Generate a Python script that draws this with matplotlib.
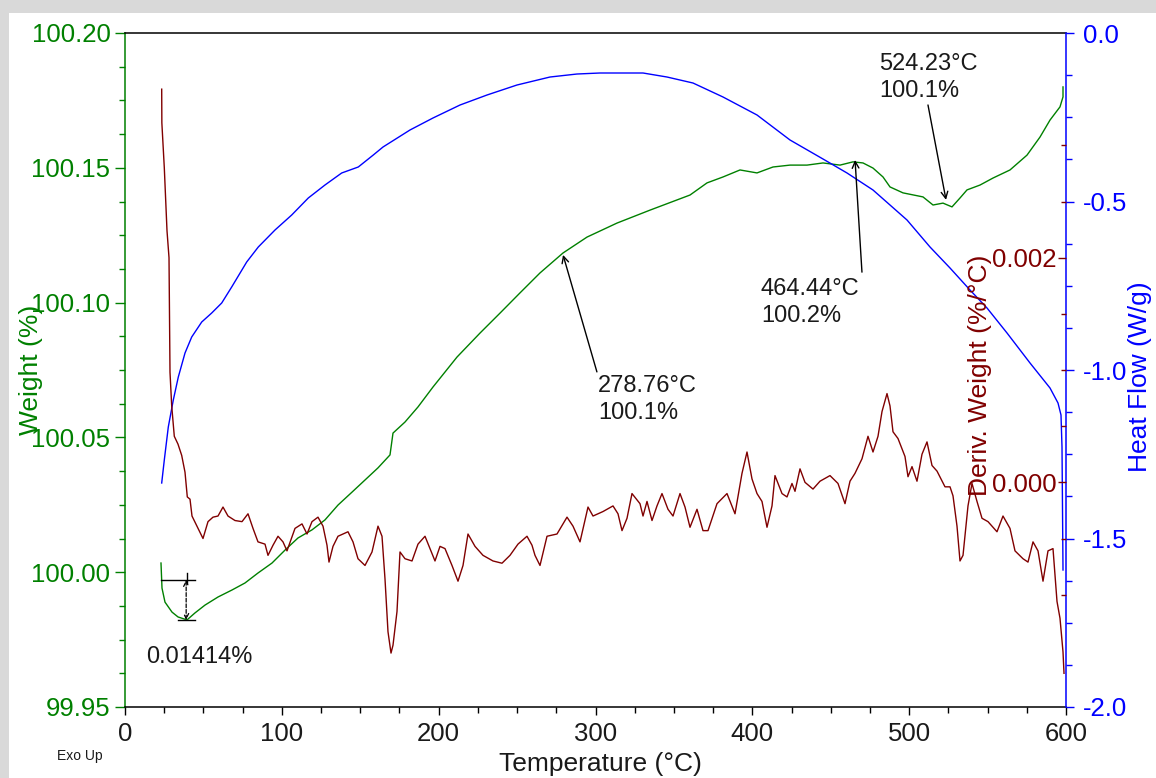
import numpy as np
import matplotlib
matplotlib.use('Agg')
import matplotlib.pyplot as plt
from matplotlib.ticker import MultipleLocator, FixedLocator, FormatStrFormatter
from matplotlib.patches import Rectangle

plt.rcParams['font.family'] = ['Liberation Sans', 'DejaVu Sans']
plt.rcParams['axes.unicode_minus'] = False

# ---------------- data ----------------
# Weight (%) vs temperature (°C)
temp_w = [22.95, 23.59, 25.50, 29.97, 33.80, 39.53, 44.63, 51.01, 59.30, 68.22,
          76.51, 84.80, 93.73, 102.02, 110.31, 119.23, 127.52, 135.81, 144.74, 153.03,
          161.32, 167.69, 168.97, 170.88, 178.53, 186.82, 196.39, 211.69, 226.36, 239.11,
          251.86, 264.61, 279.28, 294.58, 313.71, 334.75, 360.26, 371.10, 381.30, 392.14,
          402.98, 413.18, 424.02, 434.86, 445.06, 455.90, 464.19, 470.56, 476.94, 483.32,
          487.78, 496.07, 508.82, 515.20, 521.57, 527.31, 532.41, 536.88, 545.16, 553.45,
          564.29, 575.13, 583.42, 589.80, 596.17, 598.09, 598.09]
weight = [100.0034, 99.9941, 99.9889, 99.9852, 99.9834, 99.9823, 99.9849, 99.9878, 99.9908, 99.9934,
          99.9960, 99.9997, 100.0034, 100.0082, 100.0127, 100.0157, 100.0194, 100.0249, 100.0297, 100.0342,
          100.0387, 100.0427, 100.0435, 100.0516, 100.0557, 100.0613, 100.0687, 100.0798, 100.0887, 100.0961,
          100.1036, 100.1110, 100.1184, 100.1243, 100.1295, 100.1343, 100.1399, 100.1444, 100.1466, 100.1492,
          100.1481, 100.1503, 100.1510, 100.1510, 100.1518, 100.1510, 100.1522, 100.1518, 100.1499, 100.1466,
          100.1429, 100.1407, 100.1392, 100.1362, 100.1369, 100.1355, 100.1388, 100.1418, 100.1436, 100.1462,
          100.1492, 100.1547, 100.1614, 100.1677, 100.1726, 100.1763, 100.1800]

# Heat flow (W/g) vs temperature (°C)
temp_hf = [23.40, 25.06, 27.61, 30.80, 33.99, 38.26, 42.53, 48.91, 55.28, 61.66,
           68.03, 77.60, 84.99, 95.64, 106.29, 116.87, 127.52, 138.17, 148.75, 158.32,
           164.51, 181.72, 196.39, 213.60, 230.82, 249.95, 270.99, 288.20, 302.87, 330.29,
           345.59, 362.17, 381.30, 402.98, 424.02, 445.06, 460.37, 476.94, 498.62, 513.29,
           526.04, 538.79, 549.63, 562.39, 577.05, 589.80, 594.90, 596.81, 597.45, 598.09]
heat_flow = [-1.3353, -1.2671, -1.1691, -1.0890, -1.0208, -0.9496, -0.9021, -0.8576, -0.8309, -0.8012,
             -0.7537, -0.6795, -0.6350, -0.5846, -0.5401, -0.4896, -0.4510, -0.4154, -0.3976, -0.3620,
             -0.3383, -0.2878, -0.2522, -0.2137, -0.1840, -0.1543, -0.1306, -0.1217, -0.1187, -0.1187,
             -0.1306, -0.1484, -0.1899, -0.2433, -0.3175, -0.3739, -0.4154, -0.4659, -0.5549, -0.6350,
             -0.6973, -0.7626, -0.8160, -0.8902, -0.9792, -1.0534, -1.0979, -1.1335, -1.2285, -1.5935]

# Derivative weight (%/°C) vs temperature (°C)
temp_d = [23.40, 23.50, 25.06, 25.95, 26.78, 28.06, 28.69, 29.78, 31.43, 33.79,
          36.15, 38.26, 39.72, 41.45, 42.72, 45.91, 49.73, 52.92, 56.11, 59.30,
          62.49, 65.67, 70.14, 74.60, 78.43, 81.62, 84.80, 89.27, 91.18, 94.37,
          97.56, 100.74, 103.29, 108.40, 112.86, 116.05, 119.23, 123.06, 126.25, 128.80,
          130.07, 132.62, 135.81, 142.19, 145.38, 148.56, 153.03, 157.49, 161.32, 163.87,
          165.78, 167.69, 169.61, 170.88, 173.43, 175.35, 178.53, 183.00, 186.82, 191.29,
          194.47, 197.66, 200.85, 204.04, 208.50, 212.33, 215.52, 218.70, 223.17, 228.27,
          234.64, 240.38, 245.48, 250.58, 256.32, 259.51, 261.42, 264.61, 269.08, 275.45,
          281.83, 285.65, 290.12, 295.22, 298.41, 304.78, 311.16, 314.35, 316.90, 320.09,
          323.27, 328.37, 330.29, 332.84, 336.03, 339.21, 342.40, 346.23, 349.42, 353.88,
          357.07, 360.26, 364.72, 368.54, 371.73, 377.47, 383.85, 388.95, 393.41, 396.60,
          399.79, 402.98, 406.16, 409.35, 412.54, 414.45, 418.92, 422.10, 425.29, 427.21,
          430.39, 433.58, 438.68, 443.15, 449.52, 454.62, 459.09, 462.27, 465.46, 469.93,
          473.75, 476.94, 480.13, 482.68, 485.87, 487.78, 489.69, 492.88, 497.34, 499.26,
          501.81, 504.99, 508.18, 511.37, 514.56, 517.75, 522.85, 526.04, 527.95, 530.50,
          532.41, 534.33, 537.51, 540.06, 543.25, 546.44, 550.27, 556.00, 559.83, 564.29,
          567.48, 572.58, 575.77, 578.96, 582.15, 585.34, 588.52, 591.71, 594.26, 596.17,
          598.09, 598.73]
deriv = [0.00350, 0.00320, 0.00280, 0.00252, 0.00224, 0.00200, 0.00098, 0.00068, 0.00041, 0.00034,
         0.00024, 0.00009, -0.00013, -0.00015, -0.00030, -0.00039, -0.00050, -0.00035, -0.00031, -0.00030,
         -0.00022, -0.00030, -0.00034, -0.00035, -0.00028, -0.00041, -0.00053, -0.00055, -0.00065, -0.00056,
         -0.00048, -0.00053, -0.00061, -0.00041, -0.00037, -0.00046, -0.00035, -0.00031, -0.00039, -0.00056,
         -0.00071, -0.00057, -0.00048, -0.00044, -0.00053, -0.00068, -0.00074, -0.00062, -0.00039, -0.00048,
         -0.00086, -0.00133, -0.00152, -0.00145, -0.00115, -0.00062, -0.00068, -0.00070, -0.00055, -0.00048,
         -0.00059, -0.00070, -0.00057, -0.00059, -0.00074, -0.00088, -0.00074, -0.00046, -0.00057, -0.00065,
         -0.00070, -0.00072, -0.00065, -0.00055, -0.00048, -0.00056, -0.00065, -0.00074, -0.00048, -0.00046,
         -0.00031, -0.00039, -0.00053, -0.00022, -0.00030, -0.00026, -0.00021, -0.00028, -0.00043, -0.00032,
         -0.00010, -0.00019, -0.00030, -0.00017, -0.00034, -0.00021, -0.00010, -0.00024, -0.00030, -0.00010,
         -0.00022, -0.00040, -0.00024, -0.00043, -0.00043, -0.00019, -0.00010, -0.00028, 0.00008, 0.00027,
         0.00003, -0.00010, -0.00017, -0.00040, -0.00021, 0.00006, -0.00010, -0.00013, -0.00001, -0.00008,
         0.00012, 0.00000, -0.00006, 0.00001, 0.00006, -0.00001, -0.00019, 0.00001, 0.00008, 0.00021,
         0.00041, 0.00027, 0.00041, 0.00063, 0.00079, 0.00068, 0.00045, 0.00039, 0.00023, 0.00005,
         0.00014, 0.00001, 0.00025, 0.00036, 0.00015, 0.00010, -0.00004, -0.00004, -0.00012, -0.00039,
         -0.00070, -0.00065, -0.00021, -0.00001, -0.00017, -0.00032, -0.00035, -0.00044, -0.00030, -0.00041,
         -0.00061, -0.00068, -0.00071, -0.00053, -0.00061, -0.00088, -0.00061, -0.00059, -0.00106, -0.00121,
         -0.00151, -0.00170]

# axis ticks
x_major = 100
x_minor = 25
w_lim = (99.95, 100.20)
hf_lim = (-2.0, 0.0)
d_lim = (-0.002, 0.004)
d_major = [0.000, 0.002]
d_minor = [-0.001, -0.0005, 0.0005, 0.001, 0.0015, 0.0025, 0.003]

# annotations: (text, arrow head T, head W, tail T, tail W, text T, text W)
notes = [
    ('278.76°C\n100.1%', 279.3, 100.1177, 300.9, 100.0743, 301.6, 100.0730),
    ('464.44°C\n100.2%', 465.5, 100.1529, 469.9, 100.1113, 405.5, 100.1093),
    ('524.23°C\n100.1%', 523.5, 100.1381, 512.0, 100.1733, 480.8, 100.1925),
]
step_label = '0.01414%'
step_top = 99.9971
step_bottom = 99.9823

GREEN = '#008000'
BLUE = '#0000ff'
MAROON = '#800000'
TXT = '#1a1a1a'

fig = plt.figure(figsize=(11.56, 7.78), dpi=100, facecolor='#d9d9d9')
fig.patches.append(Rectangle((9 / 1156, 0), 1, 1 - 13 / 778, transform=fig.transFigure,
                             facecolor='white', edgecolor='none', zorder=-10))

ax = fig.add_axes([125 / 1156, 1 - 707 / 778, 941 / 1156, 674 / 778])
ax.set_facecolor('white')
ax2 = ax.twinx()
ax3 = ax.twinx()

# --- weight axis ---
ax.plot(temp_w, weight, color=GREEN, lw=1.0, zorder=3)
ax.set_xlim(0, 600)
ax.set_ylim(*w_lim)
ax.xaxis.set_major_locator(MultipleLocator(x_major))
ax.xaxis.set_minor_locator(MultipleLocator(x_minor))
ax.yaxis.set_major_locator(MultipleLocator(0.05))
ax.yaxis.set_minor_locator(MultipleLocator(0.0125))
ax.yaxis.set_major_formatter(FormatStrFormatter('%.2f'))
ax.tick_params(axis='x', which='major', direction='out', length=6, width=1.0,
               colors='black', labelsize=18.5, pad=5, labelcolor=TXT)
ax.tick_params(axis='x', which='minor', direction='out', length=4.5, width=1.0, colors='black')
ax.tick_params(axis='y', which='major', direction='out', length=7.5, width=1.0,
               color=GREEN, labelcolor=GREEN, labelsize=18.5, pad=3)
ax.tick_params(axis='y', which='minor', direction='out', length=4.5, width=1.0, color=GREEN)
for s in ['top', 'bottom']:
    ax.spines[s].set_color('black')
    ax.spines[s].set_linewidth(1.1)
ax.spines['left'].set_color(GREEN)
ax.spines['left'].set_linewidth(1.1)
ax.spines['right'].set_visible(False)

ax.set_ylabel('Weight (%)', color=GREEN, fontsize=19)
ax.yaxis.set_label_coords(-0.0999, 0.5)
ax.yaxis.label.set_va('center')
ax.set_xlabel('Temperature (°C)', fontsize=19, color=TXT)
ax.xaxis.set_label_coords(0.505, -0.0845)
ax.xaxis.label.set_va('center')

# --- heat flow axis ---
ax2.plot(temp_hf, heat_flow, color=BLUE, lw=1.0)
ax2.set_ylim(*hf_lim)
ax2.yaxis.set_major_locator(MultipleLocator(0.5))
ax2.yaxis.set_minor_locator(MultipleLocator(0.125))
ax2.yaxis.set_major_formatter(FormatStrFormatter('%.1f'))
ax2.tick_params(axis='y', which='major', direction='out', length=6, width=1.0,
                color=BLUE, labelcolor=BLUE, labelsize=18.5, pad=6)
ax2.tick_params(axis='y', which='minor', direction='out', length=4.5, width=1.0, color=BLUE)
for s in ['top', 'bottom', 'left']:
    ax2.spines[s].set_visible(False)
ax2.spines['right'].set_color(BLUE)
ax2.spines['right'].set_linewidth(1.1)
ax2.set_ylabel('Heat Flow (W/g)', color=BLUE, fontsize=19)
ax2.yaxis.set_label_coords(1.0786, 0.4896)
ax2.yaxis.label.set_va('center')

# --- derivative axis ---
ax3.plot(temp_d, deriv, color=MAROON, lw=1.0)
ax3.set_ylim(*d_lim)
ax3.yaxis.set_major_locator(FixedLocator(d_major))
ax3.yaxis.set_minor_locator(FixedLocator(d_minor))
ax3.yaxis.set_major_formatter(FormatStrFormatter('%.3f'))
ax3.tick_params(axis='y', which='major', direction='in', length=6, width=1.0,
                color=MAROON, labelcolor=MAROON, labelsize=18.5, pad=-6.5)
ax3.tick_params(axis='y', which='minor', direction='in', length=3.5, width=1.0, color=MAROON)
for t in ax3.yaxis.get_major_ticks():
    t.label2.set_horizontalalignment('right')
for s in ['top', 'bottom', 'left', 'right']:
    ax3.spines[s].set_visible(False)
ax3.set_ylabel('Deriv. Weight (%/°C)', color=MAROON, fontsize=19)
ax3.yaxis.set_label_coords(0.9086, 0.4926)
ax3.yaxis.label.set_va('center')

# --- annotations (in weight-axis data coordinates) ---
for text, hx, hy, tx, ty, lx, ly in notes:
    ax3.annotate('', xy=(hx, hy), xycoords=ax.transData, xytext=(tx, ty), textcoords=ax.transData,
                 arrowprops=dict(arrowstyle='->', color='black', lw=1.0,
                                 shrinkA=0, shrinkB=0, mutation_scale=12))
    ax3.text(lx, ly, text, transform=ax.transData, fontsize=17, color=TXT,
             ha='left', va='top', linespacing=1.3)

# step-change marker
ax3.plot([23.0, 44.6], [step_top, step_top], color='black', lw=1.0, transform=ax.transData)
ax3.plot([33.8, 44.6], [step_bottom, step_bottom], color='black', lw=1.0, transform=ax.transData)
ax3.plot([39.5, 39.5], [step_top + 0.0025, step_top - 0.001], color='black', lw=1.0,
         transform=ax.transData)
ax3.annotate('', xy=(39.0, step_bottom), xycoords=ax.transData,
             xytext=(39.0, step_top), textcoords=ax.transData,
             arrowprops=dict(arrowstyle='<->', color='black', lw=0.9, linestyle=(0, (3, 1.5)),
                             shrinkA=0, shrinkB=0, mutation_scale=9))
ax3.text(13.4, 99.9685, step_label, transform=ax.transData, fontsize=17, color=TXT,
         ha='left', va='center')

fig.text(80 / 1156, 1 - 756 / 778, 'Exo Up', fontsize=10, ha='center', va='center', color=TXT)

fig.savefig('out.png', dpi=100, facecolor=fig.get_facecolor())
